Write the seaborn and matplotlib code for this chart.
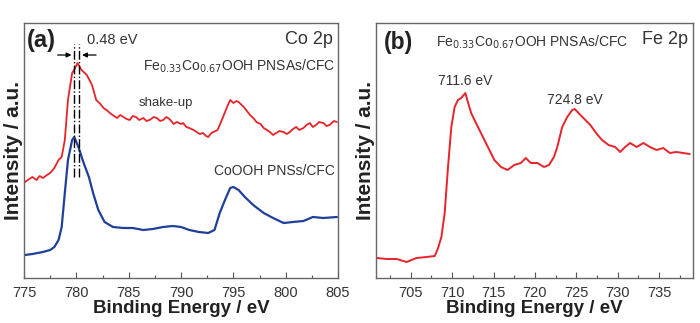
import matplotlib
matplotlib.use("Agg")
import matplotlib.pyplot as plt
from matplotlib.ticker import MultipleLocator
import pandas as pd
import seaborn as sns

# ---- Co 2p spectra (binding energy in eV, intensity in arbitrary units) ----
co_energy_fe = [775.1, 775.5, 775.8, 776.2, 776.5, 776.8, 777.2, 777.5, 777.9, 778.3,
                778.6, 778.9, 779.2, 779.6, 779.9, 780.1, 780.5, 781.0, 781.5, 781.9,
                782.3, 782.6, 783.0, 783.2, 783.6, 783.9, 784.2, 784.5, 784.8, 785.1,
                785.4, 785.7, 786.0, 786.4, 786.7, 787.0, 787.4, 787.7, 788.0, 788.3,
                788.6, 788.9, 789.3, 789.6, 790.0, 790.2, 790.5, 790.8, 791.2, 791.5,
                791.8, 792.1, 792.4, 792.6, 792.9, 793.1, 793.5, 793.9, 794.4, 794.7,
                795.0, 795.3, 795.5, 795.8, 796.0, 796.3, 796.6, 797.0, 797.2, 797.6,
                797.9, 798.2, 798.5, 798.8, 799.1, 799.4, 799.8, 800.1, 800.4, 800.7,
                801.0, 801.3, 801.7, 802.0, 802.3, 802.6, 802.9, 803.2, 803.6, 803.9,
                804.2, 804.6, 804.9]
co_int_fe = [118, 121, 123, 120, 124, 122, 125, 127, 132, 140,
             143, 160, 200, 227, 232, 237, 230, 225, 215, 200,
             196, 192, 189, 187, 184, 182, 185, 183, 181, 180,
             184, 183, 180, 182, 179, 180, 183, 182, 179, 180,
             183, 181, 176, 178, 176, 177, 173, 172, 170, 168,
             166, 167, 164, 163, 167, 168, 170, 180, 193, 200,
             197, 199, 198, 195, 193, 189, 185, 181, 178, 176,
             172, 170, 168, 165, 167, 169, 168, 166, 168, 171,
             173, 170, 172, 175, 177, 173, 175, 178, 177, 174,
             175, 179, 178]

co_energy_pure = [775.1, 775.8, 776.8, 777.5, 777.9, 778.3, 778.6, 778.9, 779.2, 779.6,
                  779.8, 780.2, 780.7, 781.2, 781.6, 782.1, 782.7, 783.5, 784.5, 785.4,
                  786.4, 787.3, 788.3, 789.2, 790.0, 790.8, 791.7, 792.6, 793.2, 793.7,
                  794.2, 794.7, 795.0, 795.5, 796.1, 796.9, 797.9, 798.8, 799.8, 800.7,
                  801.7, 802.6, 803.6, 804.9]
co_int_pure = [45, 46, 48, 50, 53, 60, 73, 107, 140, 160,
               163, 153, 137, 123, 107, 90, 78, 73, 72, 72,
               70, 71, 73, 74, 73, 70, 68, 67, 70, 87,
               100, 112, 113, 110, 103, 95, 87, 82, 77, 78,
               79, 83, 82, 83]

# ---- Fe 2p spectrum ----
fe_energy = [700.9, 702.1, 703.3, 704.5, 705.7, 706.9, 707.9, 708.3, 708.7, 709.1,
             709.5, 709.9, 710.3, 710.7, 711.1, 711.6, 711.9, 712.3, 712.7, 713.3,
             713.9, 714.5, 715.1, 715.9, 716.7, 717.5, 718.3, 718.9, 719.5, 720.3,
             721.1, 721.7, 722.3, 722.7, 723.3, 723.9, 724.5, 724.8, 725.5, 726.1,
             726.7, 727.3, 728.1, 728.9, 729.7, 730.3, 730.9, 731.5, 732.3, 733.1,
             733.9, 734.7, 735.5, 736.3, 737.1, 737.9, 738.7]
fe_int = [42, 41, 41, 38, 42, 43, 44, 52, 63, 87,
          133, 173, 193, 200, 202, 207, 198, 187, 180, 170,
          160, 150, 140, 133, 130, 135, 137, 142, 137, 137,
          133, 135, 143, 153, 173, 183, 190, 191, 185, 180,
          175, 168, 160, 155, 153, 148, 153, 157, 153, 157,
          153, 150, 152, 147, 148, 147, 146]

labels_co = ["775", "780", "785", "790", "795", "800", "805"]
labels_fe = ["705", "710", "715", "720", "725", "730", "735"]
peak_fe = [711.6, 724.8]
peak_label_fe = ["711.6 eV", "724.8 eV"]
co_peak_lines = [779.8, 780.28]

sns.set_theme(style="white")
plt.rcParams["font.family"] = ["Liberation Sans", "DejaVu Sans"]

RED = "#e8232a"
BLUE = "#1f3f99"
TXT = "#333333"

fig = plt.figure(figsize=(7.0, 3.23), dpi=100)
ax1 = fig.add_axes([24 / 700, 1 - 278 / 323, 314 / 700, 255 / 323])
ax2 = fig.add_axes([376 / 700, 1 - 278 / 323, 317 / 700, 255 / 323])

df_fe = pd.DataFrame({"E": co_energy_fe, "I": co_int_fe})
df_pure = pd.DataFrame({"E": co_energy_pure, "I": co_int_pure})
df_fe2p = pd.DataFrame({"E": fe_energy, "I": fe_int})

sns.lineplot(data=df_fe, x="E", y="I", ax=ax1, color=RED, lw=1.3, sort=False)
sns.lineplot(data=df_pure, x="E", y="I", ax=ax1, color=BLUE, lw=1.6, sort=False)
sns.lineplot(data=df_fe2p, x="E", y="I", ax=ax2, color=RED, lw=1.4, sort=False)

for ax, lo, hi, labs in [(ax1, 775, 805, labels_co), (ax2, 700.8, 739.1, labels_fe)]:
    ax.set_xlim(lo, hi)
    ax.set_ylim(22, 277)
    ticks = [float(t) for t in labs]
    ax.set_xticks(ticks)
    ax.set_xticklabels(labs)
    ax.xaxis.set_minor_locator(MultipleLocator(2.5))
    ax.set_yticks([])
    ax.tick_params(axis="x", which="both", direction="in", bottom=True,
                   colors="#555555", labelcolor=TXT, labelsize=10.5, pad=6)
    ax.tick_params(axis="x", which="major", length=4, width=0.8)
    ax.tick_params(axis="x", which="minor", length=2.5, width=0.8)
    for s in ax.spines.values():
        s.set_color("#666666")
        s.set_linewidth(1.0)
    ax.set_xlabel("Binding Energy / eV", fontsize=13.5, fontweight="bold",
                  color="#222222", labelpad=0)
    ax.set_ylabel("Intensity / a.u.", fontsize=15, fontweight="bold",
                  color="#222222", labelpad=1)

# Panel (a) annotations
ax1.text(0.01, 0.93, "(a)", transform=ax1.transAxes, fontsize=17,
         fontweight="bold", color="#222222", va="center", ha="left")
ax1.text(0.985, 0.935, "Co 2p", transform=ax1.transAxes, fontsize=13,
         color=TXT, va="center", ha="right")
ax1.text(0.2, 0.932, "0.48 eV", transform=ax1.transAxes, fontsize=10.5,
         color=TXT, va="center", ha="left")
for x in co_peak_lines:
    ax1.plot([x, x], [123, 256], color="black", lw=1.0, ls="-.")
ax1.annotate("", xy=(co_peak_lines[0], 245), xytext=(777.95, 245),
             arrowprops=dict(arrowstyle="-|>", color="black", lw=0.9,
                             mutation_scale=7))
ax1.annotate("", xy=(co_peak_lines[1], 245), xytext=(782.15, 245),
             arrowprops=dict(arrowstyle="-|>", color="black", lw=0.9,
                             mutation_scale=7))
ax1.text(0.99, 0.83, r"Fe$_{0.33}$Co$_{0.67}$OOH PNSAs/CFC", transform=ax1.transAxes,
         fontsize=10, color=TXT, va="center", ha="right")
ax1.text(0.365, 0.685, "shake-up", transform=ax1.transAxes, fontsize=9.5,
         color=TXT, va="center", ha="left")
ax1.text(0.99, 0.42, "CoOOH PNSs/CFC", transform=ax1.transAxes, fontsize=10,
         color=TXT, va="center", ha="right")

# Panel (b) annotations
ax2.text(0.025, 0.925, "(b)", transform=ax2.transAxes, fontsize=16.5,
         fontweight="bold", color="#222222", va="center", ha="left")
ax2.text(0.985, 0.935, "Fe 2p", transform=ax2.transAxes, fontsize=13,
         color=TXT, va="center", ha="right")
ax2.text(0.19, 0.925, r"Fe$_{0.33}$Co$_{0.67}$OOH PNSAs/CFC", transform=ax2.transAxes,
         fontsize=10, color=TXT, va="center", ha="left")
for x, lab, y in zip(peak_fe, peak_label_fe, [219, 200]):
    ax2.text(x, y, lab, fontsize=10, color=TXT, ha="center", va="center")

fig.savefig("out.png", dpi=100)
